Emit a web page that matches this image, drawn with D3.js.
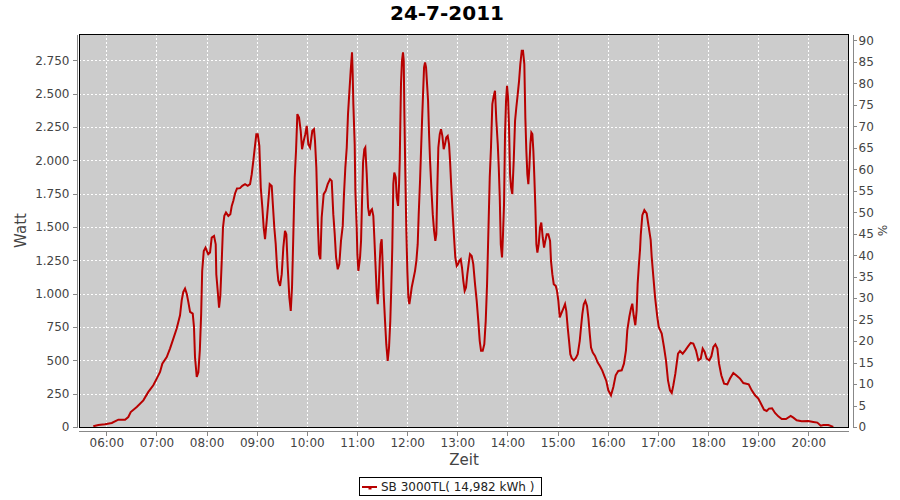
<!DOCTYPE html>
<html><head><meta charset="utf-8">
<script src="https://cdn.jsdelivr.net/npm/d3@7"></script>
<style>
body{margin:0;background:#fff}
text{font-family:"DejaVu Sans",sans-serif}
</style>
</head><body>
<svg id="c" width="900" height="500"></svg>
<script>
const chartTitle = "24-7-2011";
const legendLabel = "SB 3000TL( 14,982 kWh )";
const xLabel = "Zeit", yLabel = "Watt", y2Label = "%";
const hourTicks = [360,420,480,540,600,660,720,780,840,900,960,1020,1080,1140,1200];
const wattTicks = [0,250,500,750,1000,1250,1500,1750,2000,2250,2500,2750];
const pctTicks = [0,5,10,15,20,25,30,35,40,45,50,55,60,65,70,75,80,85,90];
const xDomain = [327.3, 1248.7];
const wattMax = 2947, pctMax = 91.5;

// time in minutes since midnight
const minutes = [
344.4,350.4,358.4,366.5,374.4,382.4,386.3,389.2,396.4,404.3,
410.3,416.2,420.3,424.3,427.0,432.3,436.2,440.2,444.2,448.2,
450.2,452.1,454.2,456.2,458.1,460.2,463.4,464.9,466.1,468.2,
470.1,471.9,473.5,474.7,476.6,478.7,481.9,484.1,486.1,488.9,
490.9,491.6,493.3,494.9,496.4,498.1,499.6,501.2,503.2,506.0,
508.4,510.1,512.0,514.0,516.4,520.0,522.7,526.0,529.2,532.0,
534.0,535.9,537.9,539.5,541.2,543.1,544.8,546.7,548.3,549.9,
551.9,553.9,555.5,557.9,559.5,561.0,562.7,564.3,565.8,567.9,
569.9,571.8,573.8,575.4,577.1,579.0,580.7,582.2,583.8,585.4,
587.0,588.6,590.6,592.6,594.2,596.2,598.1,599.8,601.7,603.8,
606.5,608.5,609.7,611.3,613.0,614.5,616.1,617.7,620.1,622.5,
624.9,627.7,629.7,631.6,633.3,634.9,636.9,638.8,640.8,642.9,
644.4,646.0,647.7,649.2,650.8,652.4,654.0,654.8,655.6,657.2,
658.0,659.6,660.4,661.6,663.6,664.8,666.0,667.2,668.7,669.9,
671.6,673.2,674.7,676.4,677.9,679.5,680.7,681.9,683.6,684.8,
686.0,687.2,688.3,689.5,690.7,691.9,693.5,695.0,696.7,698.3,
699.8,701.0,702.2,703.4,704.6,706.3,707.5,709.1,710.3,711.1,
711.8,712.6,713.8,715.0,715.9,716.6,717.8,719.0,720.2,721.4,
722.6,723.8,725.4,727.4,729.4,731.0,732.6,733.8,735.4,736.6,
737.8,739.0,740.2,741.4,742.6,743.8,745.0,746.2,747.4,748.9,
750.6,752.2,753.7,754.9,756.1,757.3,759.0,760.5,762.1,763.7,
765.3,766.8,768.5,770.1,771.3,772.8,774.5,776.1,777.6,779.3,
780.8,782.4,784.1,785.6,787.2,788.8,790.4,792.0,794.0,795.2,
797.2,799.1,801.2,803.2,805.1,806.8,808.4,810.4,812.3,814.0,
815.6,817.1,818.8,820.3,821.9,823.6,825.1,826.7,828.4,829.6,
830.8,832.0,833.5,834.7,835.9,837.1,838.3,839.5,840.7,841.9,
843.1,844.3,845.8,847.5,849.1,850.6,852.3,853.9,855.4,857.1,
858.6,860.2,861.4,862.6,863.8,865.0,866.2,867.4,868.6,869.8,
871.0,872.2,873.4,874.6,875.8,877.4,879.0,880.5,882.2,883.8,
885.3,887.0,888.9,891.0,892.1,893.7,895.4,897.8,899.3,900.9,
902.6,904.1,905.7,907.3,908.9,910.4,912.1,913.7,915.2,916.9,
919.3,921.7,924.1,926.5,928.0,929.6,931.3,933.2,935.2,936.8,
938.5,940.0,942.1,944.8,948.0,950.8,953.5,955.9,958.3,960.7,
963.9,966.7,969.5,972.6,976.7,979.4,981.8,983.4,985.8,987.8,
989.4,991.0,993.0,994.6,995.8,997.4,998.6,999.5,1001.4,1003.8,
1006.6,1009.0,1011.4,1012.6,1014.6,1016.6,1019.3,1021.0,1024.6,1027.3,
1029.7,1032.1,1034.5,1036.6,1038.5,1040.9,1042.5,1044.1,1046.5,1049.7,
1052.8,1056.1,1059.3,1062.4,1065.6,1068.4,1071.3,1073.6,1076.0,1078.4,
1081.6,1084.0,1086.4,1088.8,1091.2,1093.2,1095.9,1099.2,1103.1,1106.3,
1110.3,1114.4,1118.3,1122.3,1128.7,1132.3,1136.3,1140.2,1143.4,1147.0,
1150.2,1153.0,1156.6,1160.2,1164.1,1168.2,1173.3,1178.9,1182.1,1186.1,
1192.1,1200.0,1206.0,1210.8,1214.9,1218.0,1224.0,1226.8,1229.9];

const watts = [
5,15,20,30,55,55,75,112,150,200,
263,313,363,413,475,525,588,663,738,838,
950,1013,1038,1000,938,863,850,750,525,375,
410,575,850,1170,1320,1345,1295,1308,1420,1433,
1370,1145,1020,895,983,1245,1496,1583,1608,1583,
1596,1658,1696,1751,1789,1791,1808,1821,1808,1821,
1896,1996,2108,2196,2196,2108,1796,1646,1496,1408,
1546,1696,1821,1808,1646,1496,1371,1196,1096,1058,
1146,1346,1471,1446,1196,971,870,1046,1446,1871,
2071,2346,2321,2221,2083,2146,2196,2258,2121,2096,
2221,2233,2146,1946,1546,1296,1258,1571,1746,1771,
1821,1858,1846,1596,1446,1271,1183,1221,1396,1508,
1746,1946,2096,2346,2509,2671,2809,2646,2421,2121,
1771,1496,1296,1171,1271,1396,1696,1983,2083,2096,
1896,1646,1583,1621,1633,1583,1421,1246,996,921,
1046,1246,1371,1408,1221,996,796,621,496,596,
796,1046,1346,1821,1908,1871,1721,1658,1821,1996,
2271,2571,2746,2809,2746,2371,1896,1471,1171,971,
921,971,1046,1108,1171,1246,1371,1596,1846,2071,
2296,2496,2696,2734,2696,2571,2446,2196,1996,1796,
1596,1471,1396,1446,1796,2096,2196,2233,2183,2083,
2121,2171,2183,2121,1996,1796,1596,1421,1271,1208,
1221,1246,1258,1196,1096,1021,1046,1146,1246,1296,
1283,1221,1071,946,796,646,571,571,621,796,
1071,1446,1871,2096,2421,2483,2521,2296,2121,1946,
1721,1371,1271,1446,1671,2196,2446,2558,2471,2246,
1896,1796,1746,1996,2296,2396,2496,2596,2721,2821,
2821,2721,2321,2071,1896,1821,1946,2121,2208,2196,
2071,1871,1646,1371,1308,1371,1496,1533,1421,1346,
1396,1446,1446,1396,1246,1146,1071,1058,1021,946,
821,846,871,896,921,871,746,646,546,516,
500,516,546,646,746,846,921,946,908,821,
696,596,558,533,483,455,423,383,345,275,
238,300,388,420,425,475,575,725,825,888,
925,838,763,875,1075,1226,1326,1438,1588,1626,
1601,1501,1401,1276,1126,976,825,750,700,600,
500,350,275,255,313,400,475,550,570,550,
575,605,630,625,575,500,513,588,563,513,
500,530,600,620,588,475,388,325,320,363,
405,385,363,330,320,275,238,213,175,130,
120,138,140,105,80,60,60,83,70,50,
43,45,38,33,10,15,15,8,0];

const svg = d3.select("#c");
const L = 79, R = 849, T = 34, B = 427;
const x = d3.scaleLinear().domain(xDomain).range([L, R]);
const y = d3.scaleLinear().domain([0, wattMax]).range([B, T]);
const y2 = d3.scaleLinear().domain([0, pctMax]).range([B, T]);
const tickColor = "#444";
const axisColor = "#888";

// plot background
svg.append("rect").attr("x", L).attr("y", T).attr("width", R - L).attr("height", B - T)
  .attr("fill", "#cccccc");

// gridlines
const grid = svg.append("g").attr("stroke", "#fff").attr("stroke-width", 1)
  .attr("stroke-dasharray", "2,2").attr("shape-rendering", "crispEdges");
grid.selectAll("line.v").data(hourTicks).join("line")
  .attr("x1", d => Math.round(x(d)) + 0.5).attr("x2", d => Math.round(x(d)) + 0.5)
  .attr("y1", T).attr("y2", B);
grid.selectAll("line.h").data(wattTicks.filter(d => d > 0)).join("line")
  .attr("y1", d => Math.round(y(d)) + 0.5).attr("y2", d => Math.round(y(d)) + 0.5)
  .attr("x1", L).attr("x2", R);

// series line
svg.append("clipPath").attr("id", "clip").append("rect")
  .attr("x", L).attr("y", T).attr("width", R - L).attr("height", B - T);
const pts = minutes.map((m, i) => [m, watts[i]]);
svg.append("path").datum(pts)
  .attr("clip-path", "url(#clip)")
  .attr("fill", "none").attr("stroke", "#b80000").attr("stroke-width", 2)
  .attr("stroke-linejoin", "miter")
  .attr("d", d3.line().x(d => x(d[0])).y(d => y(d[1])));

// plot outline
svg.append("rect").attr("x", L + 0.5).attr("y", T + 0.5).attr("width", R - L - 1).attr("height", B - T)
  .attr("fill", "none").attr("stroke", "#000").attr("stroke-width", 1)
  .attr("shape-rendering", "crispEdges");

function styleAxis(g) {
  g.selectAll(".domain").attr("stroke", axisColor);
  g.selectAll(".tick line").attr("stroke", axisColor);
  g.selectAll(".tick text").attr("fill", tickColor).style("font-size", "12px")
    .style("font-family", "'DejaVu Sans', sans-serif");
  g.attr("shape-rendering", "crispEdges");
}

const fmtWatt = v => d3.format(",")(v).replace(/,/g, ".");
const pad2 = n => (n < 10 ? "0" : "") + n;
const fmtTime = m => pad2(Math.floor(m / 60)) + ":" + pad2(m % 60);

// left axis
const gL = svg.append("g").attr("transform", "translate(76.5,0)")
  .call(d3.axisLeft(y).tickValues(wattTicks).tickFormat(fmtWatt).tickSize(4).tickSizeOuter(0).tickPadding(3));
styleAxis(gL);

// right axis
const gR = svg.append("g").attr("transform", "translate(852.5,0)")
  .call(d3.axisRight(y2).tickValues(pctTicks).tickSize(4).tickSizeOuter(0).tickPadding(2));
styleAxis(gR);

// bottom axis
const gB = svg.append("g").attr("transform", "translate(0,431.5)")
  .call(d3.axisBottom(x).tickValues(hourTicks).tickFormat(fmtTime).tickSize(4).tickSizeOuter(0).tickPadding(3));
gB.select(".domain").attr("d", `M${L},0H${R}`);
styleAxis(gB);

// title
svg.append("text").attr("x", 447).attr("y", 20).attr("text-anchor", "middle")
  .style("font-size", "20px").style("font-weight", "bold").attr("fill", "#000")
  .text(chartTitle);

// axis labels
svg.append("text").attr("x", (L + R) / 2).attr("y", 465).attr("text-anchor", "middle")
  .style("font-size", "15px").attr("fill", "#444").text(xLabel);
svg.append("text").attr("transform", `translate(26,${(T + B) / 2}) rotate(-90)`)
  .attr("text-anchor", "middle").style("font-size", "15px").attr("fill", "#444").text(yLabel);
svg.append("text").attr("transform", `translate(878,${(T + B) / 2}) rotate(90)`)
  .attr("text-anchor", "middle").style("font-size", "12px").attr("fill", "#444").text(y2Label);

// legend
const lg = svg.append("g");
lg.append("rect").attr("x", 359.5).attr("y", 477.5).attr("width", 182).attr("height", 18)
  .attr("fill", "#fff").attr("stroke", "#000").attr("shape-rendering", "crispEdges");
lg.append("line").attr("x1", 362).attr("x2", 377).attr("y1", 487).attr("y2", 487)
  .attr("stroke", "#b80000").attr("stroke-width", 2);
lg.append("rect").attr("x", 368.5).attr("y", 487).attr("width", 3).attr("height", 2.5)
  .attr("fill", "#b80000");
lg.append("text").attr("x", 381).attr("y", 491).style("font-size", "12px").attr("fill", "#222")
  .text(legendLabel);
</script>
</body></html>
